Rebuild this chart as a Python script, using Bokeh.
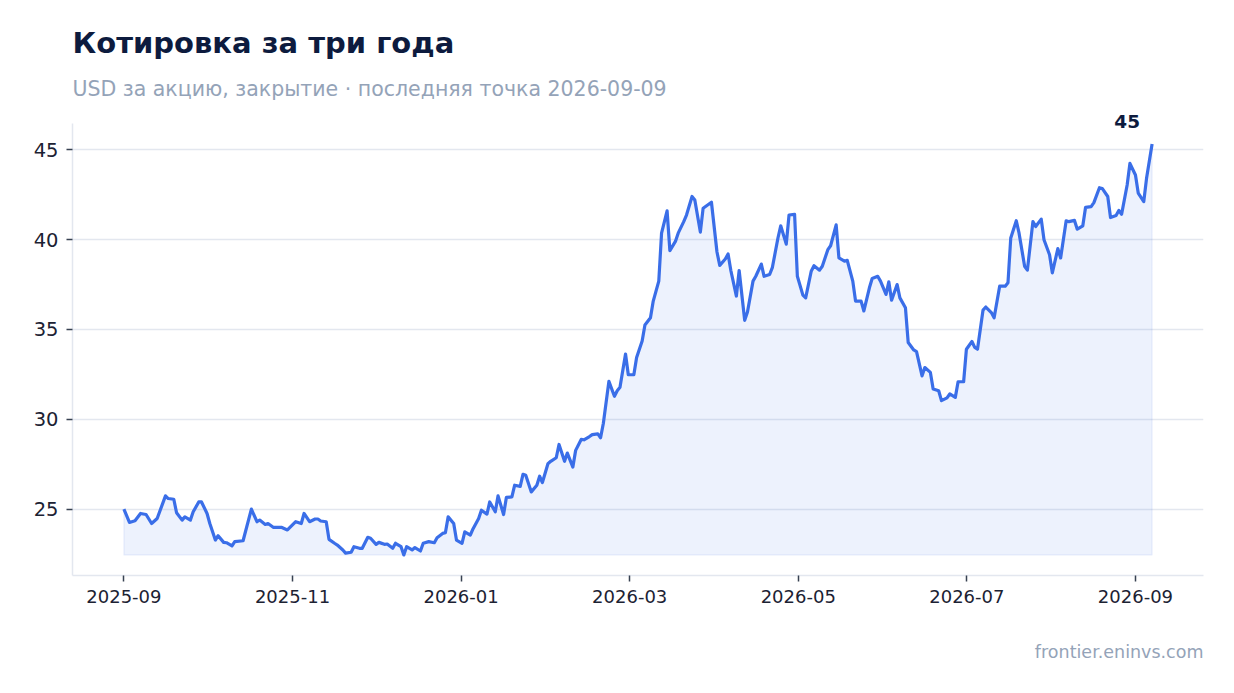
import pandas as pd
from bokeh.plotting import figure
from bokeh.models import (Range1d, FixedTicker, Title, Label)
from bokeh.embed import file_html
from bokeh.resources import INLINE

TITLE = "Котировка за три года"
SUBTITLE = "USD за акцию, закрытие · последняя точка 2026-09-09"
SOURCE = "frontier.eninvs.com"

# closing price, USD per share
dates = [
    "2025-09-01", "2025-09-03", "2025-09-05", "2025-09-07", "2025-09-09", "2025-09-11",
    "2025-09-13", "2025-09-16", "2025-09-17", "2025-09-19", "2025-09-20", "2025-09-22",
    "2025-09-23", "2025-09-25", "2025-09-26", "2025-09-28", "2025-09-29", "2025-10-01",
    "2025-10-02", "2025-10-04", "2025-10-05", "2025-10-07", "2025-10-08", "2025-10-10",
    "2025-10-11", "2025-10-14", "2025-10-17", "2025-10-19", "2025-10-20", "2025-10-22",
    "2025-10-23", "2025-10-25", "2025-10-28", "2025-10-30", "2025-11-02", "2025-11-04",
    "2025-11-05", "2025-11-07", "2025-11-09", "2025-11-10", "2025-11-11", "2025-11-13",
    "2025-11-14", "2025-11-16", "2025-11-17", "2025-11-19", "2025-11-20", "2025-11-22",
    "2025-11-23", "2025-11-25", "2025-11-26", "2025-11-28", "2025-11-29", "2025-12-01",
    "2025-12-02", "2025-12-04", "2025-12-05", "2025-12-07", "2025-12-08", "2025-12-10",
    "2025-12-11", "2025-12-12", "2025-12-14", "2025-12-15", "2025-12-17", "2025-12-18",
    "2025-12-20", "2025-12-22", "2025-12-23", "2025-12-25", "2025-12-26", "2025-12-27",
    "2025-12-29", "2025-12-30", "2026-01-01", "2026-01-02", "2026-01-04", "2026-01-05",
    "2026-01-07", "2026-01-08", "2026-01-10", "2026-01-11", "2026-01-13", "2026-01-14",
    "2026-01-16", "2026-01-17", "2026-01-19", "2026-01-20", "2026-01-22", "2026-01-23",
    "2026-01-24", "2026-01-26", "2026-01-28", "2026-01-29", "2026-01-30", "2026-02-01",
    "2026-02-02", "2026-02-04", "2026-02-05", "2026-02-07", "2026-02-08", "2026-02-10",
    "2026-02-11", "2026-02-13", "2026-02-14", "2026-02-16", "2026-02-17", "2026-02-19",
    "2026-02-20", "2026-02-21", "2026-02-23", "2026-02-25", "2026-02-26", "2026-02-27",
    "2026-03-01", "2026-03-02", "2026-03-04", "2026-03-05", "2026-03-07", "2026-03-08",
    "2026-03-10", "2026-03-11", "2026-03-13", "2026-03-14", "2026-03-16", "2026-03-17",
    "2026-03-19", "2026-03-20", "2026-03-22", "2026-03-23", "2026-03-25", "2026-03-26",
    "2026-03-28", "2026-03-29", "2026-03-31", "2026-04-01", "2026-04-03", "2026-04-04",
    "2026-04-06", "2026-04-07", "2026-04-08", "2026-04-10", "2026-04-11", "2026-04-13",
    "2026-04-14", "2026-04-16", "2026-04-17", "2026-04-19", "2026-04-20", "2026-04-22",
    "2026-04-23", "2026-04-25", "2026-04-26", "2026-04-28", "2026-04-29", "2026-05-01",
    "2026-05-02", "2026-05-04", "2026-05-05", "2026-05-07", "2026-05-08", "2026-05-10",
    "2026-05-11", "2026-05-13", "2026-05-14", "2026-05-16", "2026-05-17", "2026-05-19",
    "2026-05-20", "2026-05-22", "2026-05-23", "2026-05-25", "2026-05-26", "2026-05-28",
    "2026-05-29", "2026-05-31", "2026-06-01", "2026-06-03", "2026-06-04", "2026-06-05",
    "2026-06-07", "2026-06-08", "2026-06-10", "2026-06-11", "2026-06-13", "2026-06-14",
    "2026-06-16", "2026-06-17", "2026-06-19", "2026-06-20", "2026-06-22", "2026-06-23",
    "2026-06-25", "2026-06-26", "2026-06-28", "2026-06-29", "2026-07-01", "2026-07-02",
    "2026-07-04", "2026-07-05", "2026-07-06", "2026-07-08", "2026-07-09", "2026-07-11",
    "2026-07-12", "2026-07-14", "2026-07-16", "2026-07-17", "2026-07-18", "2026-07-20",
    "2026-07-21", "2026-07-23", "2026-07-24", "2026-07-26", "2026-07-27", "2026-07-29",
    "2026-07-30", "2026-08-01", "2026-08-02", "2026-08-04", "2026-08-05", "2026-08-07",
    "2026-08-08", "2026-08-10", "2026-08-11", "2026-08-13", "2026-08-14", "2026-08-16",
    "2026-08-17", "2026-08-19", "2026-08-20", "2026-08-22", "2026-08-23", "2026-08-25",
    "2026-08-26", "2026-08-27", "2026-08-29", "2026-08-30", "2026-09-01", "2026-09-02",
    "2026-09-04", "2026-09-05", "2026-09-07",
]
prices = [
    25.00, 24.26, 24.35, 24.76, 24.70, 24.20,
    24.48, 25.74, 25.59, 25.55, 24.80, 24.39,
    24.57, 24.39, 24.85, 25.40, 25.40, 24.76,
    24.20, 23.28, 23.52, 23.15, 23.13, 22.95,
    23.19, 23.24, 25.00, 24.30, 24.39, 24.15,
    24.20, 23.98, 23.98, 23.84, 24.30, 24.20,
    24.76, 24.30, 24.45, 24.45, 24.34, 24.30,
    23.32, 23.10, 23.00, 22.73, 22.55, 22.60,
    22.91, 22.82, 22.82, 23.43, 23.38, 23.04,
    23.15, 23.04, 23.06, 22.82, 23.10, 22.91,
    22.45, 22.91, 22.73, 22.86, 22.67, 23.10,
    23.19, 23.13, 23.41, 23.65, 23.69, 24.57,
    24.20, 23.28, 23.10, 23.74, 23.56, 23.91,
    24.48, 24.94, 24.72, 25.40, 24.85, 25.74,
    24.70, 25.65, 25.68, 26.33, 26.27, 26.94,
    26.88, 25.96, 26.33, 26.83, 26.48, 27.53,
    27.66, 27.86, 28.60, 27.66, 28.12, 27.34,
    28.27, 28.88, 28.86, 29.04, 29.15, 29.19,
    28.97, 29.78, 32.11, 31.28, 31.59, 31.78,
    33.63, 32.48, 32.48, 33.44, 34.36, 35.25,
    35.65, 36.58, 37.69, 40.36, 41.60, 39.39,
    39.90, 40.36, 41.00, 41.37, 42.40, 42.21,
    40.42, 41.75, 41.97, 42.08, 39.31, 38.57,
    38.92, 39.20, 38.28, 36.86, 38.28, 35.51,
    35.97, 37.69, 37.96, 38.64, 37.96, 38.06,
    38.46, 40.09, 40.77, 39.75, 41.37, 41.41,
    37.96, 36.91, 36.76, 38.24, 38.55, 38.30,
    38.52, 39.44, 39.66, 40.82, 38.98, 38.80,
    38.85, 37.69, 36.58, 36.58, 36.03, 37.32,
    37.84, 37.96, 37.69, 36.95, 37.65, 36.63,
    37.50, 36.76, 36.21, 34.27, 33.86, 33.77,
    32.42, 32.88, 32.61, 31.69, 31.59, 31.04,
    31.19, 31.41, 31.22, 32.09, 32.09, 33.90,
    34.33, 34.00, 33.90, 36.08, 36.25, 35.94,
    35.65, 37.41, 37.41, 37.60, 40.09, 41.05,
    40.36, 38.52, 38.30, 41.00, 40.73, 41.14,
    39.99, 39.16, 38.15, 39.50, 38.98, 41.05,
    41.00, 41.07, 40.58, 40.77, 41.80, 41.84,
    42.06, 42.89, 42.85, 42.40, 41.23, 41.34,
    41.62, 41.41, 43.04, 44.24, 43.60, 42.59,
    42.12, 43.41, 45.32,
]
x_tick_labels = ["2025-09", "2025-11", "2026-01", "2026-03",
                 "2026-05", "2026-07", "2026-09"]
y_ticks = [25, 30, 35, 40, 45]

LINE = "#3a6ee8"
NAVY = "#0d1b3e"
MUTED = "#94a3b8"
AXIS = "#e3e7ef"
FONT = "DejaVu Sans"

FRAME_H = 452      # visible axis height in px
HEADROOM = 20      # px above the axis top kept free for the end label

x = pd.to_datetime(dates)
base = min(prices)

# 5% padding on both axes
xpad = (x[-1] - x[0]) * 0.05
ypad = (max(prices) - base) * 0.05
y_lo, y_hi = base - ypad, max(prices) + ypad
# extra room above the axis so the end label is not clipped
y_top = y_hi + (y_hi - y_lo) * HEADROOM / FRAME_H

# x ticks sit evenly between the first and the last labelled month
t0 = pd.Timestamp(x_tick_labels[0])
t1 = pd.Timestamp(x_tick_labels[-1])
n = len(x_tick_labels) - 1
x_ticks = [int((t0 + (t1 - t0) * i / n).value // 10**6) for i in range(n + 1)]

p = figure(width=1226, height=692, x_axis_type="datetime",
           x_range=Range1d(x[0] - xpad, x[-1] + xpad),
           y_range=Range1d(y_lo, y_top),
           output_backend="svg", toolbar_location=None, title=None,
           min_border_left=72, min_border_right=23,
           min_border_top=123 - HEADROOM, min_border_bottom=117)
p.outline_line_color = None
p.background_fill_color = "white"
p.border_fill_color = "white"

sub = Title(text=SUBTITLE, text_font=FONT, text_font_size="20.5px",
            text_font_style="normal", text_color=MUTED, standoff=5)
p.add_layout(sub, "above")
head = Title(text=TITLE, text_font=FONT, text_font_size="29px",
             text_font_style="bold", text_color=NAVY, standoff=26)
p.add_layout(head, "above")

foot = Title(text=SOURCE, text_font=FONT, text_font_size="17.5px",
             text_font_style="normal", text_color=MUTED, align="right",
             vertical_align="top", standoff=0,
             padding=dict(left=0, right=0, top=36, bottom=0))
p.add_layout(foot, "below")

# area under the line down to the lowest close
p.patch(x=[x[0]] + list(x) + [x[-1]], y=[base] + prices + [base],
        fill_color=LINE, fill_alpha=0.09, line_color=LINE, line_alpha=0.08,
        line_width=1.5)
p.line(x, prices, line_color=LINE, line_width=3.2, line_join="round")

last = Label(x=x[-1].to_pydatetime(), y=prices[-1], text=f"{prices[-1]:.0f}",
             text_align="right", text_baseline="alphabetic", x_offset=-12,
             y_offset=23, text_font=FONT, text_font_size="18.5px",
             text_font_style="bold", text_color=NAVY)
p.add_layout(last)

p.xgrid.grid_line_color = None
p.ygrid.grid_line_color = AXIS
p.ygrid.grid_line_width = 1.5

p.xaxis.ticker = FixedTicker(ticks=x_ticks)
p.xaxis.major_label_overrides = dict(zip(x_ticks, x_tick_labels))
p.yaxis.ticker = FixedTicker(ticks=y_ticks)
p.yaxis.bounds = (y_lo, y_hi)

for ax in (p.xaxis, p.yaxis):
    ax.axis_line_color = AXIS
    ax.axis_line_width = 1.5
    ax.major_tick_line_color = "#374151"
    ax.major_tick_line_width = 1.5
    ax.major_tick_out = 6
    ax.major_tick_in = 0
    ax.minor_tick_line_color = None
    ax.major_label_text_font = FONT
    ax.major_label_text_color = "#1c2233"
p.xaxis.major_label_standoff = 8
p.yaxis.major_label_standoff = 8
p.xaxis.major_label_text_font_size = "18px"
p.yaxis.major_label_text_font_size = "19.5px"

open("out.html", "w").write(file_html(p, INLINE))
